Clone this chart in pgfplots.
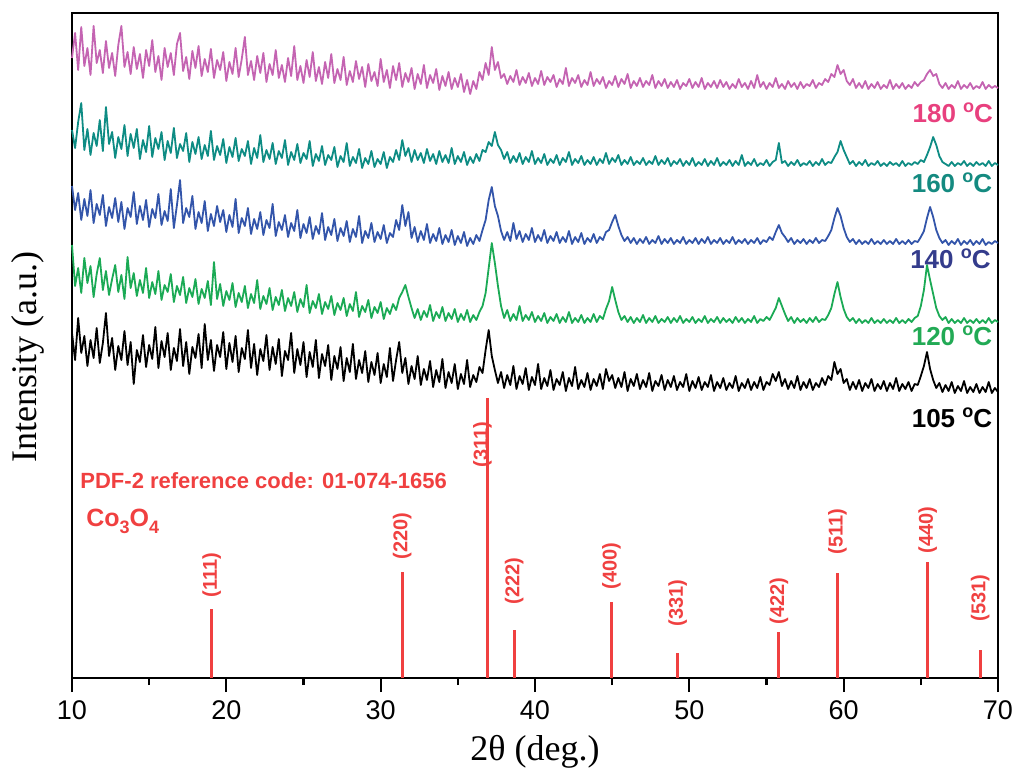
\documentclass[border=0pt]{standalone}
\usepackage{fontspec}
\setmainfont{Liberation Serif}
\newfontfamily\arial{Liberation Sans}
\usepackage{pgfplots}
\pgfplotsset{compat=1.18}
\definecolor{cMag}{RGB}{196,100,178}
\definecolor{cMagL}{RGB}{232,64,126}
\definecolor{cTeal}{RGB}{14,140,132}
\definecolor{cTealL}{RGB}{20,138,128}
\definecolor{cBlue}{RGB}{51,85,170}
\definecolor{cBlueL}{RGB}{52,60,140}
\definecolor{cGreen}{RGB}{27,170,85}
\definecolor{cGreenL}{RGB}{34,170,85}
\definecolor{cRed}{RGB}{240,64,64}
\begin{document}
\begin{tikzpicture}
\begin{axis}[
  width=463pt, height=332.5pt, scale only axis,
  xmin=10, xmax=70, ymin=0, ymax=665,
  axis line style={line width=1.2pt},
  xtick={10,20,...,70}, minor xtick={15,25,...,65},
  ytick=\empty,
  tick align=outside, xtick pos=bottom,
  major tick length=7pt, minor tick length=3.5pt,
  every tick/.style={black, line width=1.1pt},
  /pgf/number format/assume math mode=true,
  xticklabel style={font=\arial\fontsize{13.5}{14}\selectfont, yshift=-1pt},
  xlabel={2θ (deg.)}, ylabel={Intensity (a.u.)},
  x label style={font=\fontsize{18}{20}\selectfont, at={(axis description cs:0.5,0)}, anchor=base, yshift=-41pt},
  y label style={font=\fontsize{18}{20}\selectfont, at={(axis description cs:-0.0475,0.483)}, anchor=center},
  clip=false,
  every axis plot/.append style={line join=round},
]
\coordinate (bl) at (rel axis cs:0,0);
\coordinate (tr) at (rel axis cs:1,1);
% reference sticks
\addplot[ycomb, cRed, line width=1.5pt, mark=none] coordinates {
(19.05,69) (31.4,106) (36.95,280) (38.65,48) (44.95,76) (49.25,25) (55.8,46) (59.6,105) (65.45,116) (68.85,28)};
% 180 C
\addplot[cMag, line width=0.9pt, mark=none] coordinates {
(10.0,620) (10.2,645) (10.4,608) (10.6,651) (10.8,612) (11.0,630) (11.2,603) (11.4,652) (11.6,615) (11.8,628)
(12.0,605) (12.2,637) (12.4,610) (12.6,625) (12.8,602) (13.0,633) (13.2,652) (13.4,611) (13.6,626) (13.8,604)
(14.0,631) (14.2,609) (14.4,624) (14.6,600) (14.8,628) (15.0,612) (15.2,638) (15.4,606) (15.6,622) (15.8,598)
(16.0,630) (16.2,611) (16.4,625) (16.6,603) (16.8,634) (17.0,645) (17.2,607) (17.4,621) (17.6,599) (17.8,627)
(18.0,610) (18.2,632) (18.4,602) (18.6,619) (18.8,606) (19.0,629) (19.2,600) (19.4,618) (19.6,608) (19.8,626)
(20.0,597) (20.2,616) (20.4,604) (20.6,630) (20.8,601) (21.0,619) (21.2,641) (21.4,603) (21.6,617) (21.8,598)
(22.0,622) (22.2,605) (22.4,625) (22.6,596) (22.8,614) (23.0,603) (23.2,628) (23.4,600) (23.6,613) (23.8,596)
(24.0,620) (24.2,602) (24.4,632) (24.6,598) (24.8,612) (25.0,595) (25.2,618) (25.4,601) (25.6,626) (25.8,597)
(26.0,611) (26.2,594) (26.4,616) (26.6,600) (26.8,624) (27.0,595) (27.2,609) (27.4,598) (27.6,621) (27.8,593)
(28.0,607) (28.2,596) (28.4,617) (28.6,599) (28.8,611) (29.0,591) (29.2,614) (29.4,597) (29.6,606) (29.8,592)
(30.0,619) (30.2,596) (30.4,608) (30.6,590) (30.8,612) (31.0,598) (31.2,615) (31.4,591) (31.6,605) (31.8,596)
(32.0,610) (32.2,589) (32.4,604) (32.6,594) (32.8,613) (33.0,590) (33.2,603) (33.4,595) (33.6,609) (33.8,588)
(34.0,602) (34.2,592) (34.4,606) (34.6,589) (34.8,600) (35.0,591) (35.2,604) (35.4,586) (35.6,598) (35.8,584)
(36.0,597) (36.2,589) (36.4,606) (36.6,598) (36.8,615) (37.0,603) (37.2,631) (37.4,608) (37.6,616) (37.8,600)
(38.0,604) (38.2,594) (38.4,602) (38.6,596) (38.8,608) (39.0,593) (39.2,601) (39.4,595) (39.6,605) (39.8,592)
(40.0,600) (40.2,594) (40.4,607) (40.6,593) (40.8,601) (41.0,596) (41.2,603) (41.4,591) (41.6,599) (41.8,594)
(42.0,610) (42.2,592) (42.4,600) (42.6,595) (42.8,603) (43.0,591) (43.2,598) (43.4,593) (43.6,606) (43.8,592)
(44.0,599) (44.2,594) (44.4,601) (44.6,590) (44.8,597) (45.0,593) (45.2,602) (45.4,591) (45.6,599) (45.8,594)
(46.0,604) (46.2,590) (46.4,597) (46.6,592) (46.8,600) (47.0,591) (47.2,597) (47.4,593) (47.6,603) (47.8,590)
(48.0,597) (48.2,592) (48.4,599) (48.6,590) (48.8,596) (49.0,591) (49.2,598) (49.4,589) (49.6,595) (49.8,592)
(50.0,599) (50.2,590) (50.4,596) (50.6,591) (50.8,600) (51.0,589) (51.2,595) (51.4,591) (51.6,597) (51.8,590)
(52.0,598) (52.2,591) (52.4,596) (52.6,589) (52.8,594) (53.0,590) (53.2,599) (53.4,591) (53.6,595) (53.8,589)
(54.0,597) (54.2,590) (54.4,603) (54.6,591) (54.8,596) (55.0,589) (55.2,595) (55.4,591) (55.6,600) (55.8,590)
(56.0,594) (56.2,589) (56.4,597) (56.6,591) (56.8,595) (57.0,589) (57.2,596) (57.4,590) (57.6,594) (57.8,592)
(58.0,598) (58.2,590) (58.4,595) (58.6,593) (58.8,599) (59.0,596) (59.2,604) (59.4,601) (59.6,613) (59.8,604)
(60.0,608) (60.2,597) (60.4,593) (60.6,599) (60.8,590) (61.0,595) (61.2,590) (61.4,597) (61.6,589) (61.8,594)
(62.0,590) (62.2,596) (62.4,589) (62.6,593) (62.8,590) (63.0,598) (63.2,589) (63.4,594) (63.6,590) (63.8,595)
(64.0,589) (64.2,593) (64.4,590) (64.6,596) (64.8,592) (65.0,596) (65.2,598) (65.4,604) (65.6,608) (65.8,602)
(66.0,604) (66.2,594) (66.4,590) (66.6,595) (66.8,589) (67.0,593) (67.2,590) (67.4,597) (67.6,589) (67.8,593)
(68.0,590) (68.2,595) (68.4,589) (68.6,592) (68.8,590) (69.0,596) (69.2,589) (69.4,593) (69.6,590) (69.8,592)
(70.0,590)};
% 160 C
\addplot[cTeal, line width=0.9pt, mark=none] coordinates {
(10.0,548) (10.2,530) (10.4,556) (10.6,575) (10.8,528) (11.0,549) (11.2,523) (11.4,545) (11.6,532) (11.8,558)
(12.0,527) (12.2,571) (12.4,534) (12.6,546) (12.8,520) (13.0,541) (13.2,529) (13.4,553) (13.6,522) (13.8,544)
(14.0,530) (14.2,549) (14.4,519) (14.6,538) (14.8,526) (15.0,552) (15.2,521) (15.4,540) (15.6,529) (15.8,546)
(16.0,518) (16.2,537) (16.4,525) (16.6,550) (16.8,520) (17.0,534) (17.2,527) (17.4,545) (17.6,516) (17.8,536)
(18.0,524) (18.2,541) (18.4,519) (18.6,533) (18.8,522) (19.0,547) (19.2,518) (19.4,532) (19.6,523) (19.8,539)
(20.0,515) (20.2,531) (20.4,521) (20.6,540) (20.8,517) (21.0,529) (21.2,522) (21.4,537) (21.6,514) (21.8,530)
(22.0,520) (22.2,543) (22.4,516) (22.6,528) (22.8,519) (23.0,535) (23.2,514) (23.4,527) (23.6,520) (23.8,538)
(24.0,513) (24.2,526) (24.4,518) (24.6,534) (24.8,515) (25.0,525) (25.2,519) (25.4,537) (25.6,512) (25.8,524)
(26.0,517) (26.2,532) (26.4,513) (26.6,523) (26.8,518) (27.0,531) (27.2,511) (27.4,522) (27.6,516) (27.8,535)
(28.0,512) (28.2,521) (28.4,515) (28.6,529) (28.8,510) (29.0,520) (29.2,514) (29.4,527) (29.6,511) (29.8,519)
(30.0,514) (30.2,526) (30.4,510) (30.6,521) (30.8,516) (31.0,528) (31.2,518) (31.4,538) (31.6,522) (31.8,530)
(32.0,516) (32.2,528) (32.4,518) (32.6,525) (32.8,515) (33.0,529) (33.2,517) (33.4,524) (33.6,514) (33.8,527)
(34.0,516) (34.2,523) (34.4,515) (34.6,530) (34.8,514) (35.0,522) (35.2,516) (35.4,526) (35.6,513) (35.8,521)
(36.0,515) (36.2,524) (36.4,517) (36.6,528) (36.8,526) (37.0,536) (37.2,532) (37.4,546) (37.6,533) (37.8,528)
(38.0,519) (38.2,526) (38.4,515) (38.6,522) (38.8,516) (39.0,525) (39.2,514) (39.4,521) (39.6,516) (39.8,527)
(40.0,514) (40.2,520) (40.4,515) (40.6,524) (40.8,513) (41.0,519) (41.2,515) (41.4,523) (41.6,513) (41.8,520)
(42.0,516) (42.2,526) (42.4,513) (42.6,519) (42.8,515) (43.0,522) (43.2,513) (43.4,518) (43.6,514) (43.8,521)
(44.0,513) (44.2,519) (44.4,515) (44.6,525) (44.8,514) (45.0,520) (45.2,516) (45.4,523) (45.6,513) (45.8,518)
(46.0,514) (46.2,521) (46.4,513) (46.6,517) (46.8,514) (47.0,520) (47.2,513) (47.4,517) (47.6,514) (47.8,522)
(48.0,513) (48.2,518) (48.4,514) (48.6,520) (48.8,512) (49.0,517) (49.2,514) (49.4,519) (49.6,512) (49.8,517)
(50.0,513) (50.2,520) (50.4,512) (50.6,516) (50.8,513) (51.0,519) (51.2,512) (51.4,517) (51.6,513) (51.8,520)
(52.0,512) (52.2,516) (52.4,513) (52.6,518) (52.8,512) (53.0,517) (53.2,513) (53.4,523) (53.6,512) (53.8,516)
(54.0,513) (54.2,519) (54.4,512) (54.6,515) (54.8,513) (55.0,518) (55.2,512) (55.4,516) (55.6,518) (55.8,535)
(56.0,515) (56.2,517) (56.4,512) (56.6,516) (56.8,513) (57.0,518) (57.2,512) (57.4,515) (57.6,513) (57.8,517)
(58.0,512) (58.2,516) (58.4,513) (58.6,519) (58.8,513) (59.0,516) (59.2,515) (59.4,521) (59.6,526) (59.8,537)
(60.0,528) (60.2,521) (60.4,514) (60.6,517) (60.8,512) (61.0,516) (61.2,513) (61.4,518) (61.6,512) (61.8,515)
(62.0,513) (62.2,517) (62.4,512) (62.6,515) (62.8,512) (63.0,516) (63.2,513) (63.4,515) (63.6,512) (63.8,517)
(64.0,512) (64.2,515) (64.4,513) (64.6,516) (64.8,514) (65.0,518) (65.2,516) (65.4,523) (65.6,531) (65.8,541)
(66.0,533) (66.2,522) (66.4,516) (66.6,514) (66.8,512) (67.0,516) (67.2,512) (67.4,515) (67.6,513) (67.8,517)
(68.0,512) (68.2,515) (68.4,512) (68.6,516) (68.8,513) (69.0,515) (69.2,512) (69.4,517) (69.6,512) (69.8,515)
(70.0,513)};
% 140 C
\addplot[cBlue, line width=0.9pt, mark=none] coordinates {
(10.0,492) (10.2,468) (10.4,485) (10.6,458) (10.8,479) (11.0,462) (11.2,488) (11.4,455) (11.6,474) (11.8,463)
(12.0,483) (12.2,452) (12.4,471) (12.6,460) (12.8,480) (13.0,456) (13.2,476) (13.4,449) (13.6,470) (13.8,461)
(14.0,486) (14.2,454) (14.4,472) (14.6,458) (14.8,478) (15.0,451) (15.2,469) (15.4,460) (15.6,484) (15.8,453)
(16.0,467) (16.2,457) (16.4,489) (16.6,450) (16.8,473) (17.0,498) (17.2,455) (17.4,470) (17.6,461) (17.8,482)
(18.0,449) (18.2,466) (18.4,455) (18.6,477) (18.8,447) (19.0,464) (19.2,452) (19.4,472) (19.6,456) (19.8,468)
(20.0,446) (20.2,463) (20.4,451) (20.6,479) (20.8,445) (21.0,460) (21.2,452) (21.4,470) (21.6,444) (21.8,459)
(22.0,449) (22.2,466) (22.4,443) (22.6,458) (22.8,450) (23.0,474) (23.2,442) (23.4,456) (23.6,448) (23.8,463)
(24.0,441) (24.2,455) (24.4,447) (24.6,468) (24.8,440) (25.0,454) (25.2,445) (25.4,461) (25.6,439) (25.8,452)
(26.0,444) (26.2,465) (26.4,438) (26.6,451) (26.8,443) (27.0,459) (27.2,437) (27.4,450) (27.6,442) (27.8,457)
(28.0,436) (28.2,449) (28.4,441) (28.6,462) (28.8,435) (29.0,447) (29.2,440) (29.4,455) (29.6,436) (29.8,446)
(30.0,439) (30.2,453) (30.4,435) (30.6,445) (30.8,441) (31.0,458) (31.2,448) (31.4,473) (31.6,452) (31.8,466)
(32.0,440) (32.2,451) (32.4,436) (32.6,447) (32.8,438) (33.0,454) (33.2,435) (33.4,444) (33.6,437) (33.8,450)
(34.0,434) (34.2,443) (34.4,436) (34.6,448) (34.8,433) (35.0,442) (35.2,435) (35.4,446) (35.6,432) (35.8,440)
(36.0,434) (36.2,443) (36.4,437) (36.6,448) (36.8,458) (37.0,478) (37.2,491) (37.4,472) (37.6,462) (37.8,447)
(38.0,438) (38.2,446) (38.4,437) (38.6,455) (38.8,439) (39.0,447) (39.2,436) (39.4,444) (39.6,438) (39.8,450)
(40.0,436) (40.2,443) (40.4,437) (40.6,448) (40.8,435) (41.0,442) (41.2,437) (41.4,446) (41.6,435) (41.8,441)
(42.0,436) (42.2,447) (42.4,434) (42.6,441) (42.8,436) (43.0,445) (43.2,434) (43.4,440) (43.6,436) (43.8,444)
(44.0,435) (44.2,441) (44.4,438) (44.6,446) (44.8,448) (45.0,456) (45.2,463) (45.4,452) (45.6,443) (45.8,437)
(46.0,441) (46.2,435) (46.4,440) (46.6,434) (46.8,439) (47.0,435) (47.2,441) (47.4,434) (47.6,438) (47.8,435)
(48.0,442) (48.2,434) (48.4,439) (48.6,435) (48.8,440) (49.0,434) (49.2,438) (49.4,435) (49.6,441) (49.8,434)
(50.0,438) (50.2,435) (50.4,440) (50.6,434) (50.8,439) (51.0,435) (51.2,441) (51.4,434) (51.6,438) (51.8,435)
(52.0,440) (52.2,434) (52.4,438) (52.6,435) (52.8,441) (53.0,434) (53.2,438) (53.4,435) (53.6,439) (53.8,434)
(54.0,438) (54.2,435) (54.4,440) (54.6,434) (54.8,438) (55.0,436) (55.2,441) (55.4,438) (55.6,446) (55.8,453)
(56.0,445) (56.2,441) (56.4,436) (56.6,440) (56.8,434) (57.0,438) (57.2,435) (57.4,439) (57.6,434) (57.8,438)
(58.0,435) (58.2,440) (58.4,435) (58.6,438) (58.8,437) (59.0,442) (59.2,448) (59.4,460) (59.6,470) (59.8,462)
(60.0,450) (60.2,441) (60.4,436) (60.6,439) (60.8,434) (61.0,438) (61.2,434) (61.4,437) (61.6,434) (61.8,439)
(62.0,434) (62.2,437) (62.4,434) (62.6,438) (62.8,434) (63.0,437) (63.2,434) (63.4,439) (63.6,434) (63.8,437)
(64.0,434) (64.2,438) (64.4,434) (64.6,437) (64.8,436) (65.0,441) (65.2,447) (65.4,460) (65.6,471) (65.8,461)
(66.0,448) (66.2,440) (66.4,435) (66.6,438) (66.8,433) (67.0,437) (67.2,434) (67.4,439) (67.6,433) (67.8,437)
(68.0,434) (68.2,438) (68.4,433) (68.6,437) (68.8,434) (69.0,439) (69.2,433) (69.4,436) (69.6,434) (69.8,437)
(70.0,435)};
% 120 C
\addplot[cGreen, line width=0.9pt, mark=none] coordinates {
(10.0,433) (10.2,392) (10.4,410) (10.6,385) (10.8,420) (11.0,395) (11.2,412) (11.4,381) (11.6,404) (11.8,420)
(12.0,388) (12.2,407) (12.4,383) (12.6,399) (12.8,413) (13.0,386) (13.2,403) (13.4,379) (13.6,421) (13.8,390)
(14.0,405) (14.2,382) (14.4,398) (14.6,385) (14.8,410) (15.0,380) (15.2,396) (15.4,384) (15.6,407) (15.8,378)
(16.0,393) (16.2,386) (16.4,404) (16.6,376) (16.8,392) (17.0,383) (17.2,401) (17.4,375) (17.6,390) (17.8,381)
(18.0,399) (18.2,374) (18.4,389) (18.6,380) (18.8,397) (19.0,373) (19.2,416) (19.4,379) (19.6,394) (19.8,372)
(20.0,387) (20.2,378) (20.4,395) (20.6,371) (20.8,385) (21.0,376) (21.2,392) (21.4,370) (21.6,384) (21.8,375)
(22.0,398) (22.2,369) (22.4,382) (22.6,374) (22.8,390) (23.0,368) (23.2,381) (23.4,373) (23.6,388) (23.8,367)
(24.0,380) (24.2,372) (24.4,386) (24.6,366) (24.8,379) (25.0,371) (25.2,393) (25.4,365) (25.6,377) (25.8,370)
(26.0,384) (26.2,364) (26.4,376) (26.6,369) (26.8,382) (27.0,363) (27.2,375) (27.4,368) (27.6,380) (27.8,362)
(28.0,374) (28.2,367) (28.4,386) (28.6,361) (28.8,372) (29.0,366) (29.2,378) (29.4,360) (29.6,371) (29.8,365)
(30.0,376) (30.2,359) (30.4,370) (30.6,364) (30.8,374) (31.0,368) (31.2,380) (31.4,386) (31.6,393) (31.8,381)
(32.0,370) (32.2,360) (32.4,369) (32.6,358) (32.8,367) (33.0,361) (33.2,373) (33.4,357) (33.6,366) (33.8,360)
(34.0,371) (34.2,357) (34.4,365) (34.6,359) (34.8,369) (35.0,356) (35.2,364) (35.4,358) (35.6,368) (35.8,356)
(36.0,363) (36.2,358) (36.4,366) (36.6,372) (36.8,385) (37.0,410) (37.2,435) (37.4,415) (37.6,392) (37.8,372)
(38.0,360) (38.2,368) (38.4,357) (38.6,364) (38.8,358) (39.0,372) (39.2,357) (39.4,363) (39.6,358) (39.8,366)
(40.0,356) (40.2,362) (40.4,357) (40.6,365) (40.8,355) (41.0,361) (41.2,357) (41.4,364) (41.6,355) (41.8,361)
(42.0,356) (42.2,366) (42.4,355) (42.6,360) (42.8,356) (43.0,363) (43.2,355) (43.4,360) (43.6,356) (43.8,364)
(44.0,356) (44.2,362) (44.4,359) (44.6,369) (44.8,377) (45.0,391) (45.2,378) (45.4,366) (45.6,358) (45.8,362)
(46.0,356) (46.2,361) (46.4,355) (46.6,360) (46.8,356) (47.0,363) (47.2,355) (47.4,360) (47.6,356) (47.8,362)
(48.0,355) (48.2,359) (48.4,356) (48.6,361) (48.8,355) (49.0,360) (49.2,356) (49.4,362) (49.6,355) (49.8,359)
(50.0,356) (50.2,361) (50.4,355) (50.6,359) (50.8,356) (51.0,362) (51.2,355) (51.4,359) (51.6,356) (51.8,361)
(52.0,355) (52.2,360) (52.4,356) (52.6,359) (52.8,355) (53.0,361) (53.2,356) (53.4,360) (53.6,355) (53.8,359)
(54.0,356) (54.2,362) (54.4,355) (54.6,359) (54.8,357) (55.0,361) (55.2,358) (55.4,364) (55.6,370) (55.8,380)
(56.0,372) (56.2,364) (56.4,357) (56.6,361) (56.8,355) (57.0,360) (57.2,356) (57.4,359) (57.6,355) (57.8,360)
(58.0,356) (58.2,361) (58.4,356) (58.6,359) (58.8,358) (59.0,363) (59.2,370) (59.4,384) (59.6,396) (59.8,381)
(60.0,369) (60.2,361) (60.4,357) (60.6,360) (60.8,355) (61.0,359) (61.2,355) (61.4,358) (61.6,355) (61.8,360)
(62.0,355) (62.2,358) (62.4,355) (62.6,359) (62.8,355) (63.0,358) (63.2,355) (63.4,360) (63.6,355) (63.8,358)
(64.0,355) (64.2,359) (64.4,356) (64.6,360) (64.8,362) (65.0,372) (65.2,388) (65.4,413) (65.6,398) (65.8,384)
(66.0,370) (66.2,362) (66.4,358) (66.6,361) (66.8,355) (67.0,359) (67.2,355) (67.4,358) (67.6,355) (67.8,360)
(68.0,355) (68.2,358) (68.4,355) (68.6,359) (68.8,355) (69.0,358) (69.2,355) (69.4,360) (69.6,355) (69.8,358)
(70.0,356)};
% 105 C
\addplot[black, line width=0.9pt, mark=none] coordinates {
(10.0,345) (10.2,318) (10.4,360) (10.6,325) (10.8,342) (11.0,312) (11.2,338) (11.4,320) (11.6,350) (11.8,315)
(12.0,335) (12.2,365) (12.4,322) (12.6,340) (12.8,308) (13.0,332) (13.2,318) (13.4,347) (13.6,313) (13.8,336)
(14.0,294) (14.2,328) (14.4,316) (14.6,343) (14.8,311) (15.0,333) (15.2,319) (15.4,351) (15.6,310) (15.8,337)
(16.0,321) (16.2,345) (16.4,308) (16.6,330) (16.8,317) (17.0,349) (17.2,312) (17.4,336) (17.6,304) (17.8,331)
(18.0,320) (18.2,344) (18.4,310) (18.6,354) (18.8,318) (19.0,338) (19.2,307) (19.4,333) (19.6,321) (19.8,346)
(20.0,309) (20.2,335) (20.4,316) (20.6,342) (20.8,306) (21.0,330) (21.2,319) (21.4,348) (21.6,310) (21.8,334)
(22.0,303) (22.2,329) (22.4,317) (22.6,343) (22.8,308) (23.0,331) (23.2,314) (23.4,339) (23.6,302) (23.8,327)
(24.0,318) (24.2,345) (24.4,305) (24.6,329) (24.8,313) (25.0,336) (25.2,301) (25.4,326) (25.6,311) (25.8,338)
(26.0,300) (26.2,324) (26.4,312) (26.6,333) (26.8,298) (27.0,322) (27.2,309) (27.4,331) (27.6,297) (27.8,320)
(28.0,306) (28.2,334) (28.4,299) (28.6,318) (28.8,305) (29.0,327) (29.2,296) (29.4,316) (29.6,303) (29.8,325)
(30.0,295) (30.2,314) (30.4,301) (30.6,330) (30.8,297) (31.0,318) (31.2,336) (31.4,305) (31.6,320) (31.8,294)
(32.0,312) (32.2,299) (32.4,322) (32.6,293) (32.8,309) (33.0,298) (33.2,317) (33.4,291) (33.6,308) (33.8,296)
(34.0,319) (34.2,290) (34.4,306) (34.6,295) (34.8,314) (35.0,289) (35.2,304) (35.4,294) (35.6,318) (35.8,291)
(36.0,303) (36.2,296) (36.4,311) (36.6,305) (36.8,328) (37.0,348) (37.2,322) (37.4,308) (37.6,295) (37.8,306)
(38.0,290) (38.2,303) (38.4,293) (38.6,312) (38.8,289) (39.0,302) (39.2,294) (39.4,310) (39.6,288) (39.8,301)
(40.0,293) (40.2,314) (40.4,289) (40.6,300) (40.8,292) (41.0,308) (41.2,288) (41.4,299) (41.6,293) (41.8,306)
(42.0,287) (42.2,300) (42.4,292) (42.6,311) (42.8,289) (43.0,298) (43.2,291) (43.4,305) (43.6,288) (43.8,299)
(44.0,292) (44.2,304) (44.4,289) (44.6,309) (44.8,297) (45.0,303) (45.2,290) (45.4,300) (45.6,291) (45.8,306)
(46.0,287) (46.2,299) (46.4,292) (46.6,304) (46.8,289) (47.0,298) (47.2,291) (47.4,305) (47.6,287) (47.8,297)
(48.0,292) (48.2,303) (48.4,288) (48.6,298) (48.8,291) (49.0,302) (49.2,288) (49.4,296) (49.6,291) (49.8,304)
(50.0,287) (50.2,297) (50.4,290) (50.6,301) (50.8,288) (51.0,296) (51.2,291) (51.4,303) (51.6,287) (51.8,296)
(52.0,290) (52.2,300) (52.4,288) (52.6,295) (52.8,290) (53.0,302) (53.2,287) (53.4,295) (53.6,290) (53.8,299)
(54.0,288) (54.2,296) (54.4,290) (54.6,301) (54.8,288) (55.0,296) (55.2,293) (55.4,304) (55.6,297) (55.8,306)
(56.0,292) (56.2,299) (56.4,289) (56.6,297) (56.8,290) (57.0,302) (57.2,288) (57.4,296) (57.6,290) (57.8,299)
(58.0,288) (58.2,295) (58.4,291) (58.6,300) (58.8,293) (59.0,302) (59.2,298) (59.4,316) (59.6,304) (59.8,309)
(60.0,295) (60.2,299) (60.4,288) (60.6,296) (60.8,289) (61.0,298) (61.2,287) (61.4,295) (61.6,290) (61.8,299)
(62.0,287) (62.2,294) (62.4,289) (62.6,297) (62.8,287) (63.0,295) (63.2,289) (63.4,300) (63.6,287) (63.8,294)
(64.0,289) (64.2,296) (64.4,287) (64.6,294) (64.8,293) (65.0,302) (65.2,312) (65.4,326) (65.6,309) (65.8,298)
(66.0,290) (66.2,295) (66.4,286) (66.6,293) (66.8,287) (67.0,296) (67.2,285) (67.4,292) (67.6,287) (67.8,297)
(68.0,285) (68.2,291) (68.4,286) (68.6,294) (68.8,285) (69.0,291) (69.2,286) (69.4,296) (69.6,285) (69.8,290)
(70.0,286)};
% stick labels
\begin{scope}[every node/.style={font=\arial\bfseries\fontsize{10}{11}\selectfont, text=cRed, rotate=90, anchor=west, inner sep=0pt}]
\node at (axis cs:19.05,80) {(111)};
\node at (axis cs:31.4,118) {(220)};
\node at (axis cs:36.6,210) {(311)};
\node at (axis cs:38.65,73) {(222)};
\node at (axis cs:44.95,88) {(400)};
\node at (axis cs:49.25,51) {(331)};
\node at (axis cs:55.8,53) {(422)};
\node at (axis cs:59.6,123) {(511)};
\node at (axis cs:65.45,124) {(440)};
\node at (axis cs:68.85,56) {(531)};
\end{scope}
\node[font=\arial\bfseries\fontsize{11}{12}\selectfont, text=cRed, anchor=base west, inner sep=0pt] at (axis cs:10.52,190) {PDF-2 reference code: 01-074-1656};
\node[font=\arial\bfseries\fontsize{12.5}{13}\selectfont, text=cRed, anchor=base west, inner sep=0pt] at (axis cs:10.9,152) {Co\raisebox{-3.5pt}{\fontsize{9}{9}\selectfont 3}O\raisebox{-3.5pt}{\fontsize{9}{9}\selectfont 4}};
\begin{scope}[every node/.style={font=\arial\bfseries\fontsize{13}{14}\selectfont, anchor=base east, inner sep=0pt}]
\node[text=cMagL] at (axis cs:69.7,556) {180 \raisebox{5pt}{\fontsize{9}{9}\selectfont o}C};
\node[text=cTealL] at (axis cs:69.65,486) {160 \raisebox{5pt}{\fontsize{9}{9}\selectfont o}C};
\node[text=cBlueL] at (axis cs:69.55,410) {140 \raisebox{5pt}{\fontsize{9}{9}\selectfont o}C};
\node[text=cGreenL] at (axis cs:69.65,333) {120 \raisebox{5pt}{\fontsize{9}{9}\selectfont o}C};
\node[text=black] at (axis cs:69.65,251) {105 \raisebox{5pt}{\fontsize{9}{9}\selectfont o}C};
\end{scope}
\end{axis}
\pgfresetboundingbox
\path[use as bounding box] ([xshift=-36pt,yshift=-45pt]bl) rectangle ([xshift=8.5pt,yshift=6.5pt]tr);
\end{tikzpicture}
\end{document}
